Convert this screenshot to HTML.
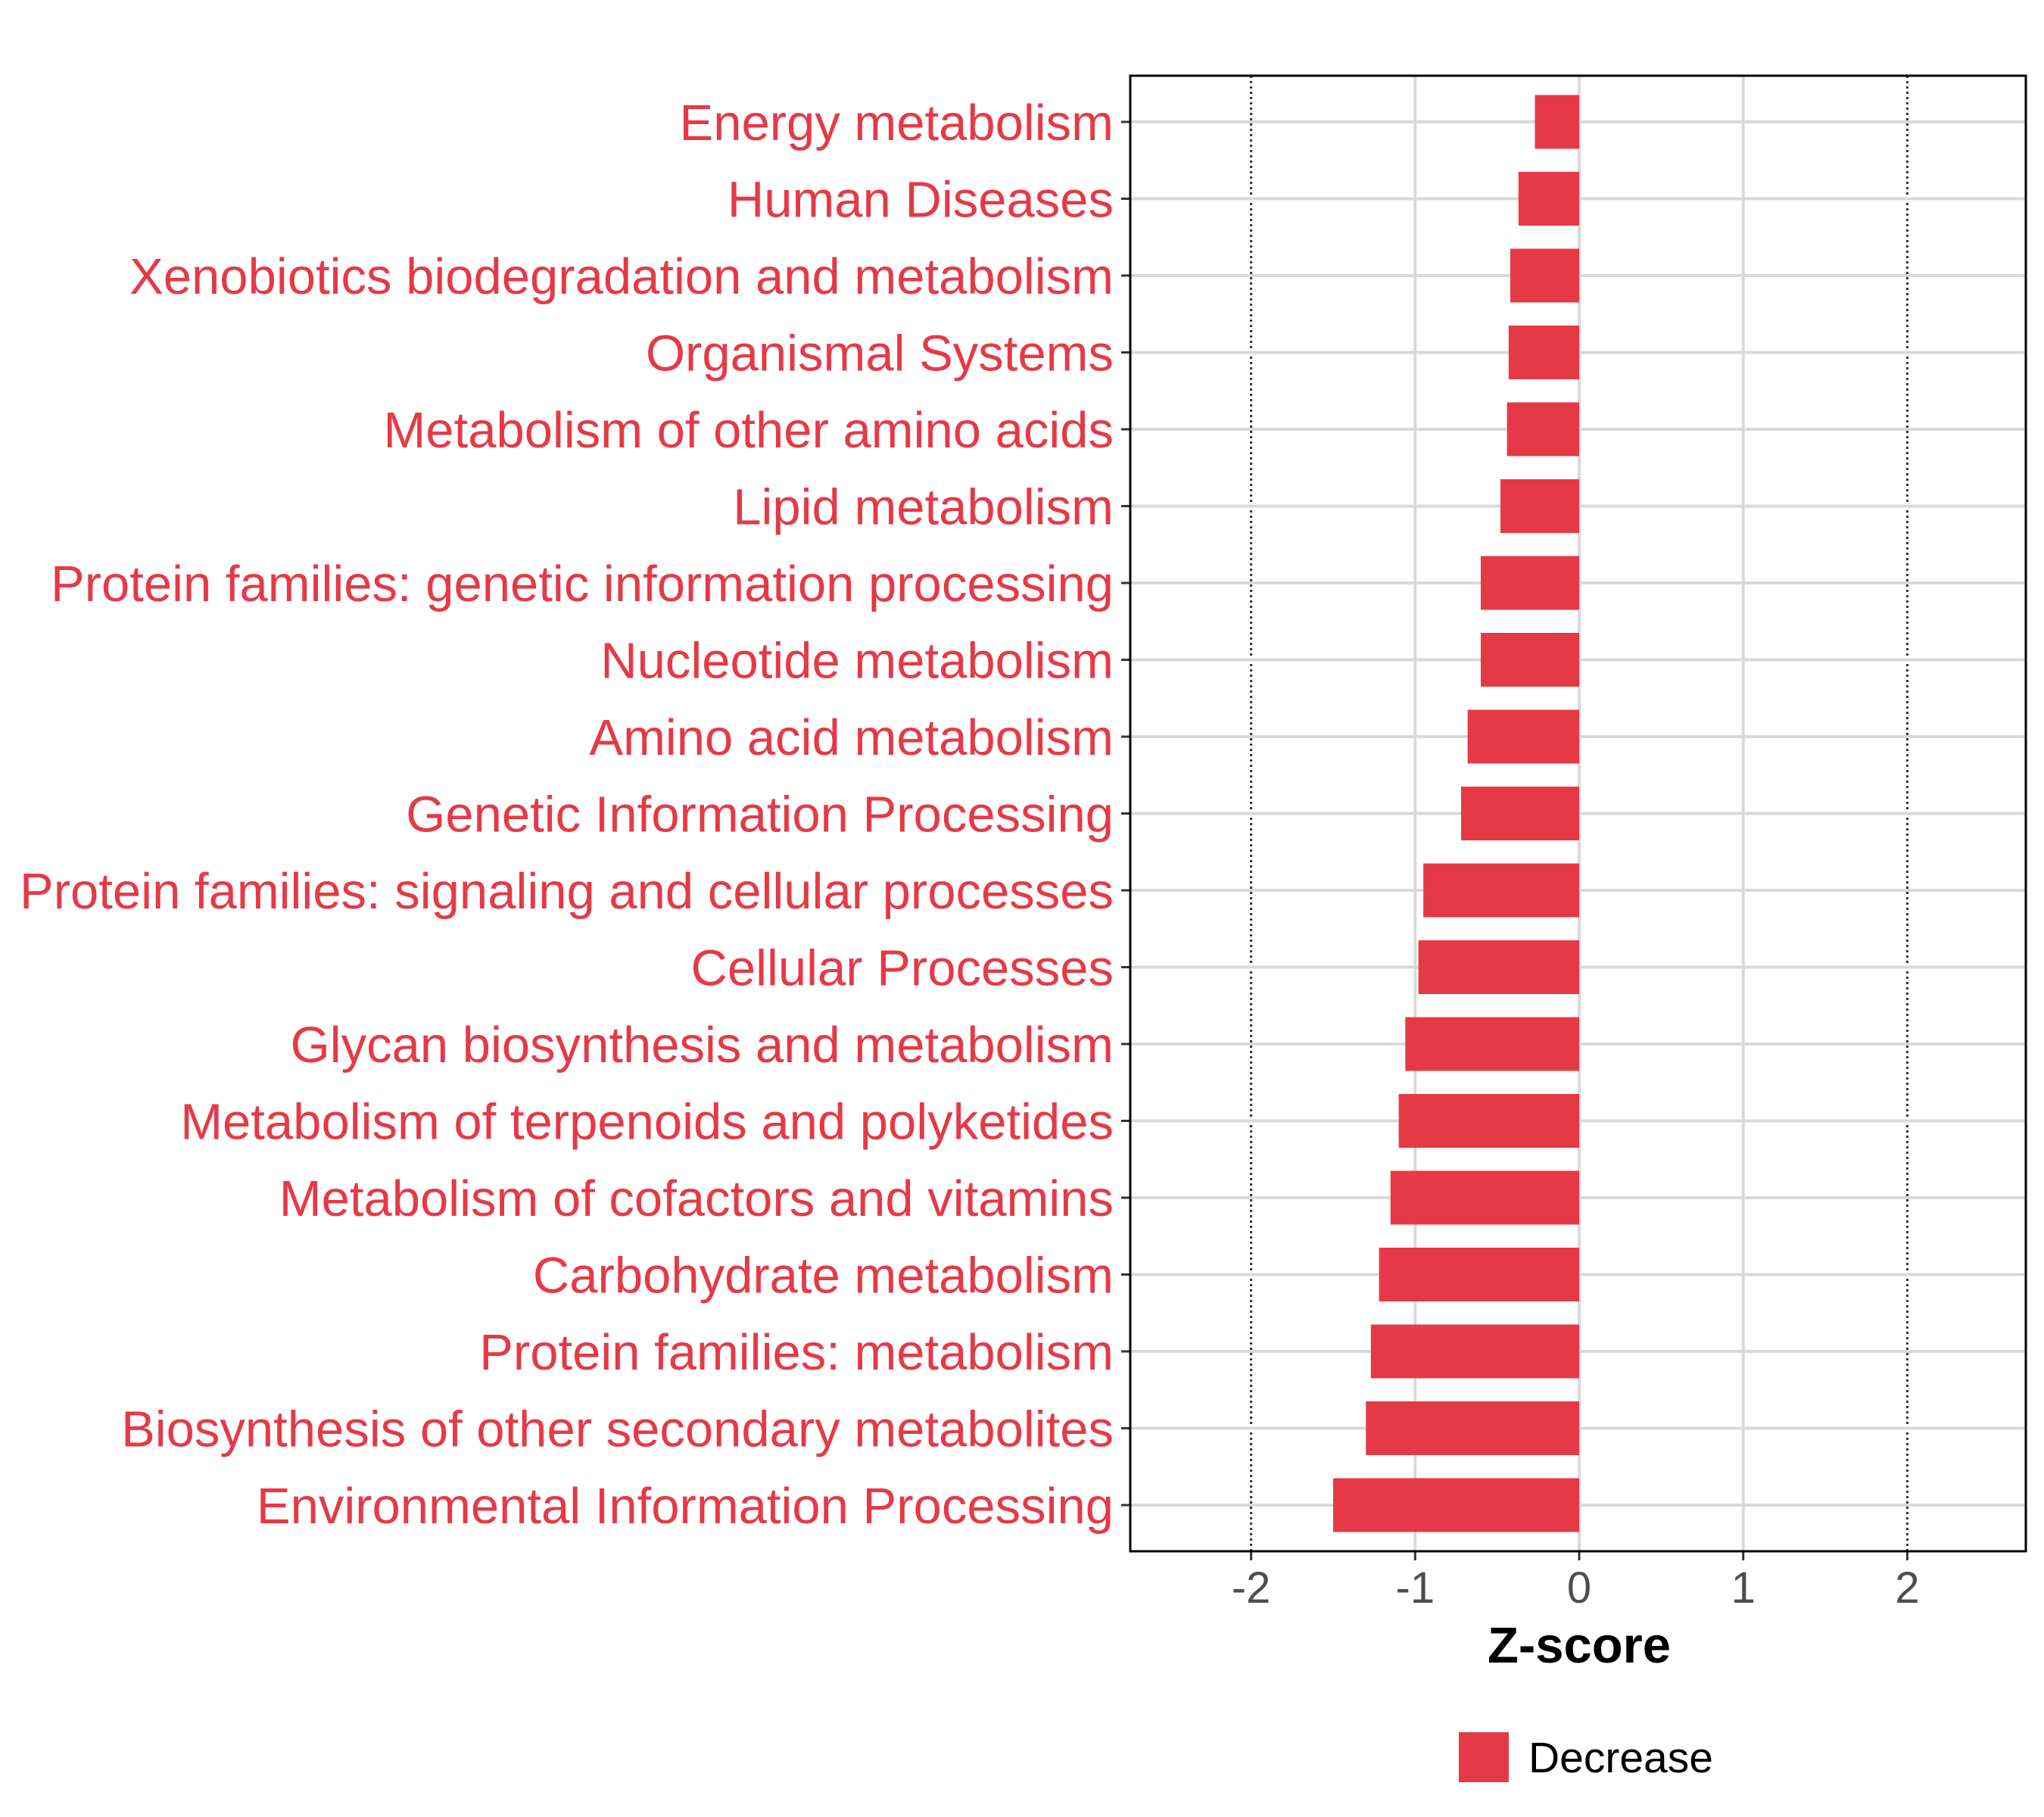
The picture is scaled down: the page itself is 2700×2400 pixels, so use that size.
<!DOCTYPE html>
<html><head><meta charset="utf-8"><style>
body{margin:0;background:#fff}
svg{display:block;font-family:"Liberation Sans",sans-serif}
</style></head><body>
<svg id="chart" width="2700" height="2400" viewBox="0 0 2700 2400" xmlns="http://www.w3.org/2000/svg">
<g id="grid"></g><g id="bars"></g><g id="ylabels"></g><g id="xaxis"></g>
<rect x="1493" y="100" width="1183" height="1949" fill="none" stroke="#000" stroke-width="3"/>
<text x="2086" y="2196" text-anchor="middle" font-size="67" font-weight="bold">Z-score</text>
<rect x="1927" y="2288" width="66" height="66" fill="#E63946"/>
<text x="2019" y="2341" font-size="57">Decrease</text>
</svg>
<script>
const categories=["Energy metabolism","Human Diseases","Xenobiotics biodegradation and metabolism","Organismal Systems","Metabolism of other amino acids","Lipid metabolism","Protein families: genetic information processing","Nucleotide metabolism","Amino acid metabolism","Genetic Information Processing","Protein families: signaling and cellular processes","Cellular Processes","Glycan biosynthesis and metabolism","Metabolism of terpenoids and polyketides","Metabolism of cofactors and vitamins","Carbohydrate metabolism","Protein families: metabolism","Biosynthesis of other secondary metabolites","Environmental Information Processing"];
const zscores=[-0.27,-0.37,-0.42,-0.43,-0.44,-0.48,-0.60,-0.60,-0.68,-0.72,-0.95,-0.98,-1.06,-1.10,-1.15,-1.22,-1.27,-1.30,-1.50];
const xTicks=[-2,-1,0,1,2];
const xTickLabels=["-2","-1","0","1","2"];
const NS="http://www.w3.org/2000/svg";
const x=v=>2086+v*216.7;
const y=i=>161+i*101.5;
function mk(tag,attrs,parent){const e=document.createElementNS(NS,tag);for(const k in attrs)e.setAttribute(k,attrs[k]);parent.appendChild(e);return e;}
const grid=document.getElementById('grid'),bars=document.getElementById('bars'),yl=document.getElementById('ylabels'),xa=document.getElementById('xaxis');
xTicks.forEach((t,i)=>{
  const dotted=(t===-2||t===2);
  const l=mk('line',{x1:x(t),x2:x(t),y1:100,y2:2049,stroke:dotted?'#333':'#d9d9d9','stroke-width':dotted?3:4,'stroke-dasharray':dotted?'3,4':'none'},grid);
  
  
  const tk=mk('line',{x1:x(t),x2:x(t),y1:2049,y2:2061,stroke:'#333','stroke-width':3},xa);
  
  
  const tl=mk('text',{x:x(t),y:2117,'text-anchor':'middle','font-size':58,fill:'#4d4d4d'},xa);
  tl.textContent=xTickLabels[i];
  
  
});
categories.forEach((c,i)=>{
  const g=mk('line',{x1:1493,x2:2676,y1:y(i),y2:y(i),stroke:'#d9d9d9','stroke-width':4},grid);
  
  
  const v=zscores[i];
  const r=mk('rect',{x:Math.min(x(v),x(0)),y:y(i)-35.5,width:Math.abs(x(v)-x(0)),height:71,fill:'#E63946'},bars);
  
  
  const tk=mk('line',{x1:1481,x2:1493,y1:y(i),y2:y(i),stroke:'#333','stroke-width':3},yl);
  
  
  const t=mk('text',{x:1471,y:y(i)+24,'text-anchor':'end','font-size':67,fill:'#E63946'},yl);
  t.textContent=c;
  
  
});
</script>
</body></html>
